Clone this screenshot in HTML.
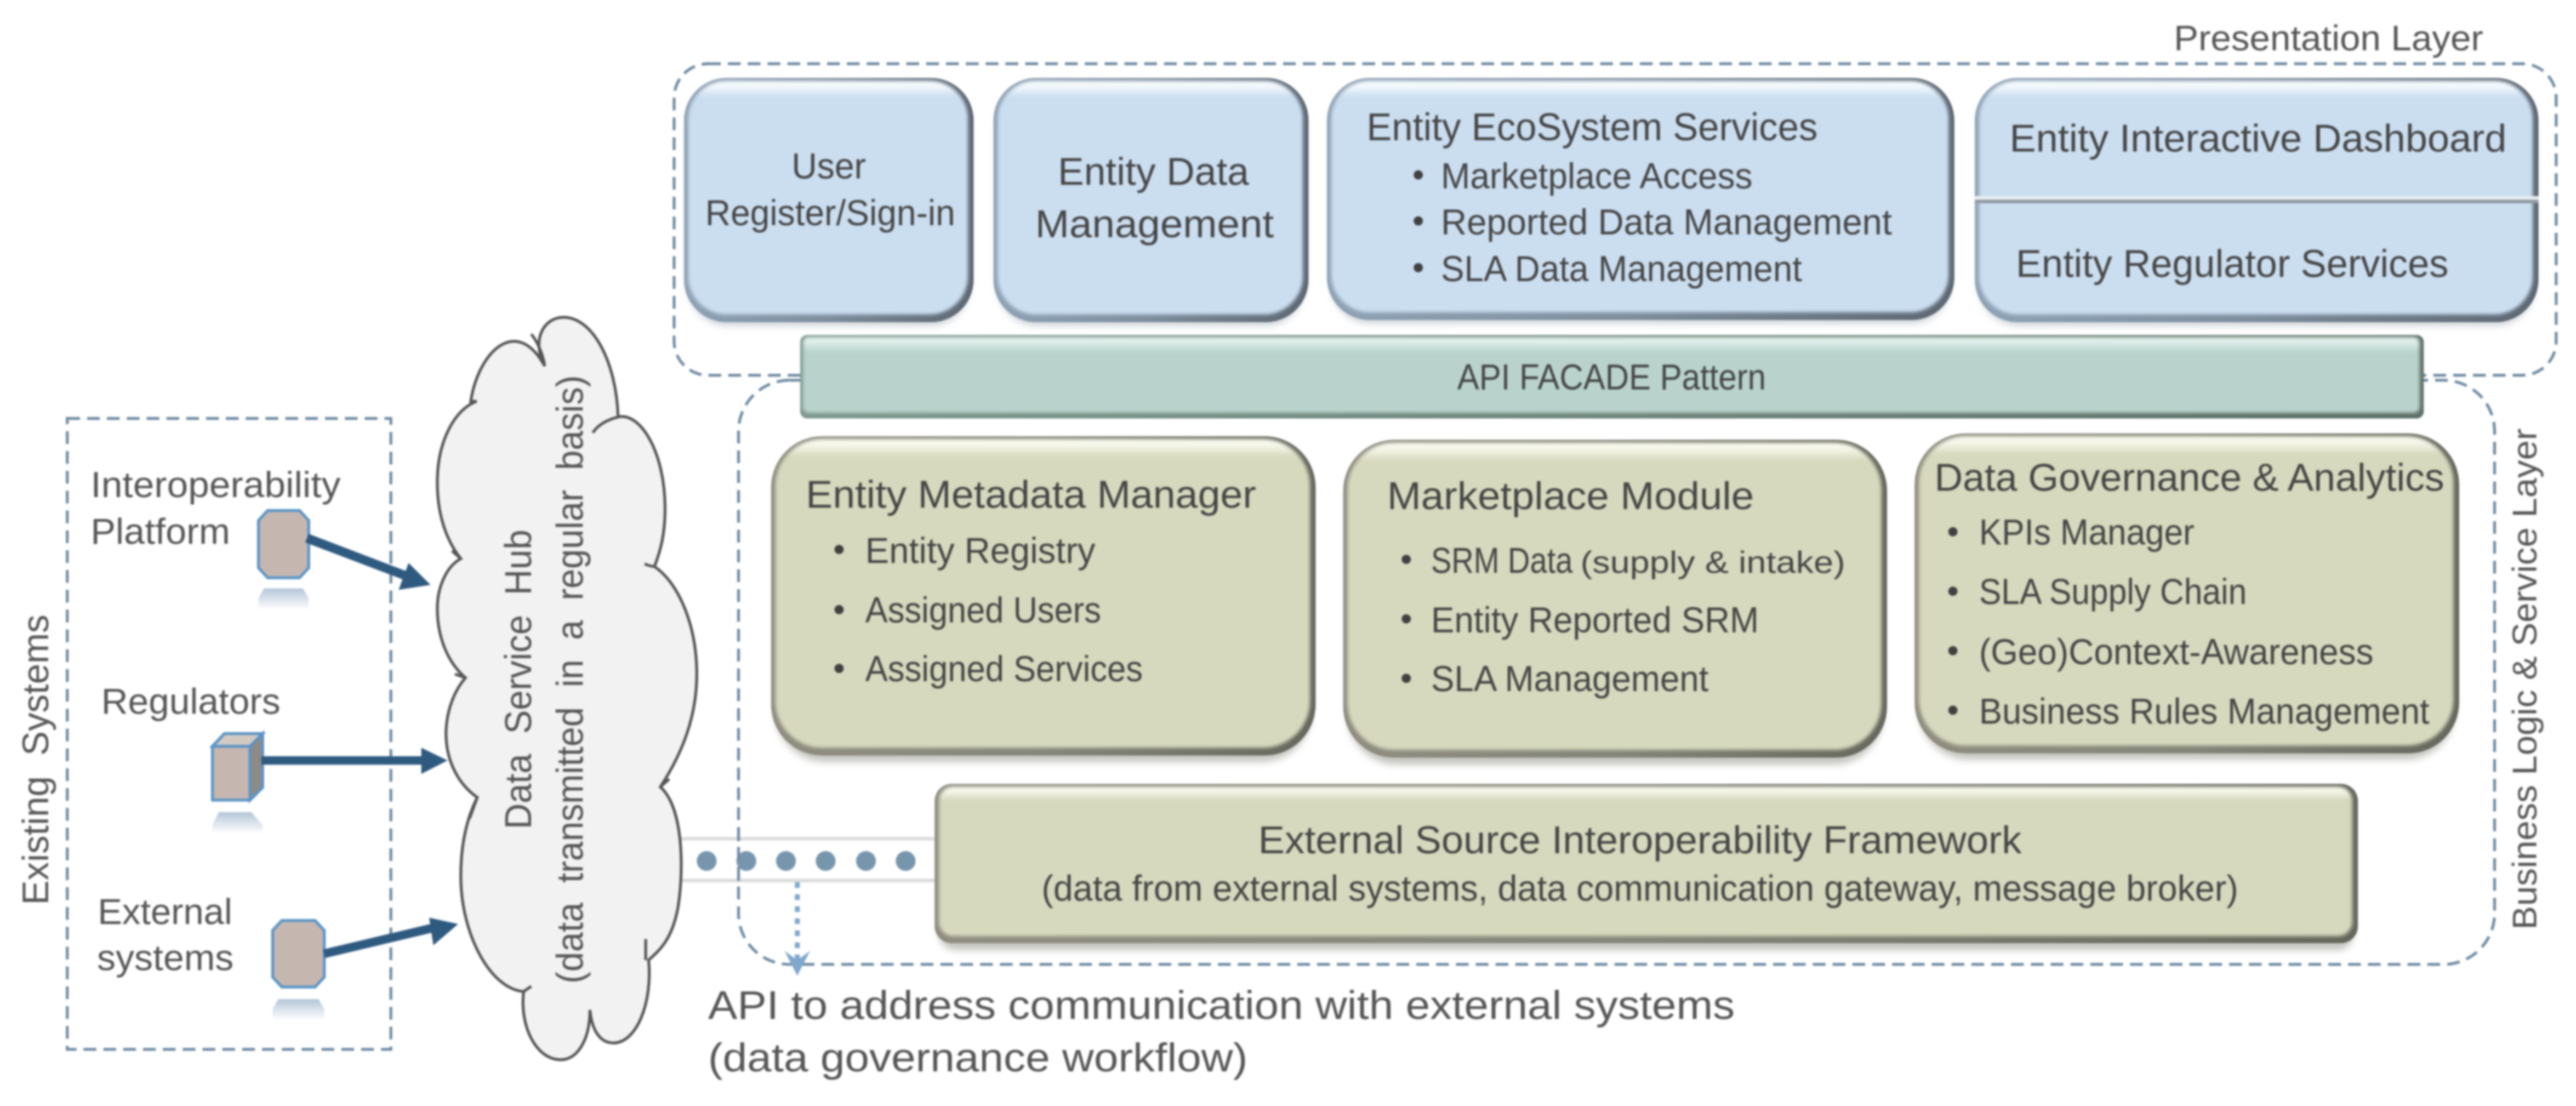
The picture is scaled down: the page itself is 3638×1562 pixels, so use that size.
<!DOCTYPE html>
<html><head><meta charset="utf-8"><style>
html,body{margin:0;padding:0;background:#fff;width:3638px;height:1562px;overflow:hidden}
svg{display:block;filter:blur(1.3px)}
text{font-family:"Liberation Sans",sans-serif;fill:#454545}
.t{font-size:55px}.s{font-size:51px}
.g{fill:#555}
.d{fill:none;stroke:#6f8ba3;stroke-width:4;stroke-dasharray:18 10}
.b{fill:#404040}
</style></head><body>
<svg width="3638" height="1562" viewBox="0 0 3638 1562" xmlns="http://www.w3.org/2000/svg">
<defs>
<linearGradient id="ob" x1="0" y1="0" x2="1" y2="0"><stop offset="0" stop-color="#8fa3b5"/><stop offset=".5" stop-color="#7d8d9c"/><stop offset="1" stop-color="#5c6772"/></linearGradient>
<linearGradient id="oo" x1="0" y1="0" x2="1" y2="0"><stop offset="0" stop-color="#8f8d80"/><stop offset=".5" stop-color="#84867a"/><stop offset="1" stop-color="#66675c"/></linearGradient>
<linearGradient id="og" x1="0" y1="0" x2="1" y2="0"><stop offset="0" stop-color="#7f9a90"/><stop offset="1" stop-color="#5f7168"/></linearGradient>
<linearGradient id="ib" x1="0" y1="0" x2="0" y2="1"><stop offset="0" stop-color="#f6fbfe"/><stop offset=".025" stop-color="#f2f8fd"/><stop offset=".07" stop-color="#cbdef0"/><stop offset="1" stop-color="#cbdef0"/></linearGradient>
<linearGradient id="io" x1="0" y1="0" x2="0" y2="1"><stop offset="0" stop-color="#fbfbf0"/><stop offset=".02" stop-color="#f6f7ea"/><stop offset=".06" stop-color="#d6d9bd"/><stop offset="1" stop-color="#d6d9bd"/></linearGradient>
<linearGradient id="io2" x1="0" y1="0" x2="0" y2="1"><stop offset="0" stop-color="#fbfbf0"/><stop offset=".03" stop-color="#f6f7ea"/><stop offset=".09" stop-color="#d6d9bd"/><stop offset="1" stop-color="#d6d9bd"/></linearGradient>
<linearGradient id="ig" x1="0" y1="0" x2="0" y2="1"><stop offset="0" stop-color="#e6f3ef"/><stop offset=".06" stop-color="#dfeeea"/><stop offset=".2" stop-color="#b9d3cc"/><stop offset="1" stop-color="#b9d3cc"/></linearGradient>
<linearGradient id="rf" x1="0" y1="0" x2="0" y2="1"><stop offset="0" stop-color="#b4c6d8"/><stop offset="1" stop-color="#ffffff"/></linearGradient>
<filter id="sh" x="-5%" y="-5%" width="110%" height="115%"><feGaussianBlur stdDeviation="5"/></filter>
<filter id="in" x="-2%" y="-2%" width="104%" height="104%"><feGaussianBlur stdDeviation="2.5"/></filter>
</defs>

<!-- presentation dashed -->
<rect class="d" x="952" y="90" width="2658" height="440" rx="48"/>
<!-- business dashed -->
<rect class="d" x="1043" y="537" width="2480" height="825" rx="72"/>

<!-- shadows -->
<g fill="#8a8a80" opacity=".5" filter="url(#sh)">
<rect x="1095" y="630" width="757" height="446" rx="70"/><rect x="1903" y="634" width="756" height="446" rx="70"/><rect x="2710" y="626" width="757" height="447" rx="70"/><rect x="1326" y="1120" width="1998" height="222" rx="24"/>
</g>
<g fill="#a5b0ba" opacity=".55" filter="url(#sh)">
<rect x="972" y="120" width="397" height="340" rx="55"/><rect x="1409" y="120" width="433" height="340" rx="55"/><rect x="1880" y="120" width="874" height="337" rx="55"/><rect x="2795" y="120" width="784" height="340" rx="55"/>
</g>

<!-- blue boxes -->
<rect x="966" y="110" width="409" height="345" rx="60" fill="url(#ob)"/>
<rect x="1403" y="110" width="445" height="345" rx="60" fill="url(#ob)"/>
<rect x="1874" y="110" width="886" height="342" rx="60" fill="url(#ob)"/>
<rect x="2789" y="110" width="796" height="345" rx="60" fill="url(#ob)"/>
<g filter="url(#in)">
<rect x="972" y="114" width="395" height="330" rx="54" fill="url(#ib)"/>
<rect x="1409" y="114" width="431" height="330" rx="54" fill="url(#ib)"/>
<rect x="1880" y="114" width="872" height="327" rx="54" fill="url(#ib)"/>
<rect x="2795" y="114" width="782" height="330" rx="54" fill="url(#ib)"/>
</g>
<rect x="2789" y="277" width="796" height="5" fill="#e8eef2"/><rect x="2789" y="282" width="796" height="5" fill="#8f9aa3"/>

<!-- facade -->
<rect x="1130" y="473" width="2293" height="118" rx="10" fill="url(#og)"/>
<rect x="1134" y="476" width="2283" height="107" rx="8" fill="url(#ig)" filter="url(#in)"/>

<!-- olive boxes -->
<rect x="1089" y="616" width="769" height="451" rx="72" fill="url(#oo)"/>
<rect x="1897" y="621" width="768" height="449" rx="72" fill="url(#oo)"/>
<rect x="2704" y="612" width="769" height="452" rx="72" fill="url(#oo)"/>
<rect x="1320" y="1107" width="2010" height="225" rx="24" fill="url(#oo)"/>
<g filter="url(#in)">
<rect x="1095" y="620" width="755" height="436" rx="66" fill="url(#io)"/>
<rect x="1903" y="625" width="754" height="434" rx="66" fill="url(#io)"/>
<rect x="2710" y="616" width="755" height="437" rx="66" fill="url(#io)"/>
<rect x="1326" y="1111" width="1996" height="211" rx="20" fill="url(#io2)"/>
</g>

<!-- connector band -->
<rect x="962" y="1182" width="358" height="5" fill="#dcdcdc"/><rect x="962" y="1241" width="358" height="5" fill="#dcdcdc"/>
<g fill="#7796ae"><circle cx="998" cy="1216" r="14"/><circle cx="1054" cy="1216" r="14"/><circle cx="1110" cy="1216" r="14"/><circle cx="1166" cy="1216" r="14"/><circle cx="1223" cy="1216" r="14"/><circle cx="1279" cy="1216" r="14"/></g>
<path d="M1043 1170V1260" class="d"/>
<path d="M1126 1246V1360" fill="none" stroke="#7fa8cc" stroke-width="7" stroke-dasharray="8 9"/>
<path d="M1108 1343L1126 1378L1144 1343L1126 1356Z" fill="#7fa8cc"/>

<!-- existing systems -->
<rect class="d" x="95" y="591" width="457" height="891"/>

<!-- cloud -->
<g transform="translate(0,400) scale(.829,.741)">
<path vector-effect="non-scaling-stroke" d="M802 225C815 130 880 60 928 158C905 110 925 65 960 65C1010 65 1050 150 1053 255C1090 245 1133 320 1133 430C1133 480 1125 510 1115 540C1155 570 1187 650 1187 745C1187 830 1160 900 1125 960C1165 1000 1165 1120 1155 1190C1145 1250 1125 1270 1105 1290C1112 1370 1085 1448 1045 1448C1020 1448 1008 1420 1005 1385C1005 1440 985 1480 955 1480C915 1480 885 1420 892 1350C835 1345 785 1240 785 1130C785 1070 795 1020 813 980C775 950 758 900 760 850C762 810 775 775 793 752C760 720 745 670 745 620C745 580 760 540 785 525C760 490 745 440 745 380C745 300 775 240 812 225Z" fill="#f2f2f2" stroke="#555" stroke-width="4"/>
<g fill="none" stroke="#555" stroke-width="4"><path vector-effect="non-scaling-stroke" d="M905 97C915 110 925 135 928 158"/><path vector-effect="non-scaling-stroke" d="M1053 255C1035 260 1018 270 1010 285"/><path vector-effect="non-scaling-stroke" d="M1098 535C1105 538 1110 540 1115 540"/><path vector-effect="non-scaling-stroke" d="M1125 960C1130 955 1135 950 1140 945"/><path vector-effect="non-scaling-stroke" d="M1100 1250V1290"/><path vector-effect="non-scaling-stroke" d="M892 1350L905 1340"/><path vector-effect="non-scaling-stroke" d="M813 980L800 1020"/><path vector-effect="non-scaling-stroke" d="M770 510L785 525"/><path vector-effect="non-scaling-stroke" d="M793 752L775 745"/></g>
</g>

<!-- icons -->
<g stroke="#5b94c5" stroke-width="4" fill="#c5b7b0">
<path d="M378 721H423L436 735V802L423 816H378L365 802V735Z"/>
<path d="M398 1300H445L458 1314V1380L445 1394H398L385 1380V1314Z"/>
<path d="M300 1054L317 1036H371V1112L353 1130H300Z"/>
</g>
<path d="M300 1054H353L371 1036H317Z" fill="#d3c9c3" stroke="#5b94c5" stroke-width="4"/>
<path d="M353 1054L371 1036V1112L353 1130Z" fill="#8f8a88" stroke="#5b94c5" stroke-width="4"/>
<path d="M373 831H428L436 845V861H365V845Z" fill="url(#rf)"/>
<path d="M309 1147H355L371 1165V1177H300V1165Z" fill="url(#rf)"/>
<path d="M393 1411H450L458 1425V1441H385V1425Z" fill="url(#rf)"/>

<!-- arrows -->
<g fill="#2f5a80" stroke="none">
<path d="M431 766L436 754L580 809L576 821Z"/><path d="M608 826L563 833L577 795Z"/>
<path d="M369 1068H600V1080H369Z"/><path d="M632 1074L595 1056V1093Z"/>
<path d="M456 1341L459 1353L615 1316L612 1304Z"/><path d="M647 1305L606 1296L612 1335Z"/>
</g>

<!-- left labels -->
<text x="128" y="702" font-size="51" textLength="353" lengthAdjust="spacingAndGlyphs" class="g">Interoperability</text>
<text x="128" y="768" font-size="51" textLength="197" lengthAdjust="spacingAndGlyphs" class="g">Platform</text>
<text x="143" y="1008" font-size="51" textLength="253" lengthAdjust="spacingAndGlyphs" class="g">Regulators</text>
<text x="138" y="1305" font-size="51" textLength="190" lengthAdjust="spacingAndGlyphs" class="g">External</text>
<text x="137" y="1370" font-size="51" textLength="193" lengthAdjust="spacingAndGlyphs" class="g">systems</text>
<text transform="translate(68,1278) rotate(-90)" font-size="52" textLength="410" lengthAdjust="spacingAndGlyphs" class="g" xml:space="preserve">Existing  Systems</text>
<text transform="translate(750,1171) rotate(-90)" font-size="53" textLength="423" lengthAdjust="spacingAndGlyphs" xml:space="preserve" class="g">Data  Service  Hub</text>
<text transform="translate(823,1389) rotate(-90)" font-size="53" textLength="859" lengthAdjust="spacingAndGlyphs" xml:space="preserve" class="g">(data  transmitted  in  a  regular  basis)</text>
<text transform="translate(3582,1313) rotate(-90)" font-size="48" textLength="708" lengthAdjust="spacingAndGlyphs" xml:space="preserve" class="g">Business Logic &amp; Service Layer</text>
<text x="3070" y="71" font-size="50" textLength="437" lengthAdjust="spacingAndGlyphs" class="g">Presentation Layer</text>

<!-- blue text -->
<text x="1118" y="252" class="s" textLength="105" lengthAdjust="spacingAndGlyphs">User</text>
<text x="996" y="318" class="s" textLength="353" lengthAdjust="spacingAndGlyphs">Register/Sign-in</text>
<text x="1494" y="261" class="t" textLength="270" lengthAdjust="spacingAndGlyphs">Entity Data</text>
<text x="1462" y="335" class="t" textLength="337" lengthAdjust="spacingAndGlyphs">Management</text>
<text x="1930" y="198" class="t" textLength="637" lengthAdjust="spacingAndGlyphs">Entity EcoSystem Services</text>
<circle class="b" cx="2003" cy="247" r="6.5"/><text x="2035" y="266" class="s" textLength="440" lengthAdjust="spacingAndGlyphs">Marketplace Access</text>
<circle class="b" cx="2003" cy="312" r="6.5"/><text x="2035" y="331" class="s" textLength="637" lengthAdjust="spacingAndGlyphs">Reported Data Management</text>
<circle class="b" cx="2003" cy="378" r="6.5"/><text x="2035" y="397" class="s" textLength="510" lengthAdjust="spacingAndGlyphs">SLA Data Management</text>
<text x="2838" y="214" class="t" textLength="702" lengthAdjust="spacingAndGlyphs">Entity Interactive Dashboard</text>
<text x="2847" y="391" class="t" textLength="611" lengthAdjust="spacingAndGlyphs">Entity Regulator Services</text>
<text x="2058" y="550" class="s" textLength="436" lengthAdjust="spacingAndGlyphs">API FACADE Pattern</text>

<!-- olive text -->
<text x="1138" y="717" class="t" textLength="636" lengthAdjust="spacingAndGlyphs">Entity Metadata Manager</text>
<circle class="b" cx="1185" cy="776" r="6.5"/><text x="1222" y="795" class="s" textLength="325" lengthAdjust="spacingAndGlyphs">Entity Registry</text>
<circle class="b" cx="1185" cy="861" r="6.5"/><text x="1222" y="879" class="s" textLength="333" lengthAdjust="spacingAndGlyphs">Assigned Users</text>
<circle class="b" cx="1185" cy="944" r="6.5"/><text x="1222" y="962" class="s" textLength="392" lengthAdjust="spacingAndGlyphs">Assigned Services</text>

<text x="1959" y="719" class="t" textLength="518" lengthAdjust="spacingAndGlyphs">Marketplace Module</text>
<circle class="b" cx="1986" cy="790" r="6.5"/><text x="2021" y="809" class="s" textLength="200" lengthAdjust="spacingAndGlyphs">SRM Data</text><text x="2232" y="809" font-size="44" textLength="374" lengthAdjust="spacingAndGlyphs">(supply &amp; intake)</text>
<circle class="b" cx="1986" cy="874" r="6.5"/><text x="2021" y="893" class="s" textLength="463" lengthAdjust="spacingAndGlyphs">Entity Reported SRM</text>
<circle class="b" cx="1986" cy="958" r="6.5"/><text x="2021" y="976" class="s" textLength="392" lengthAdjust="spacingAndGlyphs">SLA Management</text>

<text x="2732" y="693" class="t" textLength="720" lengthAdjust="spacingAndGlyphs">Data Governance &amp; Analytics</text>
<circle class="b" cx="2758" cy="751" r="6.5"/><text x="2795" y="769" class="s" textLength="304" lengthAdjust="spacingAndGlyphs">KPIs Manager</text>
<circle class="b" cx="2758" cy="835" r="6.5"/><text x="2795" y="853" class="s" textLength="378" lengthAdjust="spacingAndGlyphs">SLA Supply Chain</text>
<circle class="b" cx="2758" cy="919" r="6.5"/><text x="2795" y="938" class="s" textLength="557" lengthAdjust="spacingAndGlyphs">(Geo)Context-Awareness</text>
<circle class="b" cx="2758" cy="1003" r="6.5"/><text x="2795" y="1022" class="s" textLength="636" lengthAdjust="spacingAndGlyphs">Business Rules Management</text>

<text x="1777" y="1205" class="t" textLength="1078" lengthAdjust="spacingAndGlyphs">External Source Interoperability Framework</text>
<text x="1471" y="1272" class="s" textLength="1690" lengthAdjust="spacingAndGlyphs">(data from external systems, data communication gateway, message broker)</text>

<text x="1000" y="1439" font-size="57" textLength="1450" lengthAdjust="spacingAndGlyphs" class="g">API to address communication with external systems</text>
<text x="1000" y="1513" font-size="57" textLength="762" lengthAdjust="spacingAndGlyphs" class="g">(data governance workflow)</text>
</svg>
</body></html>
